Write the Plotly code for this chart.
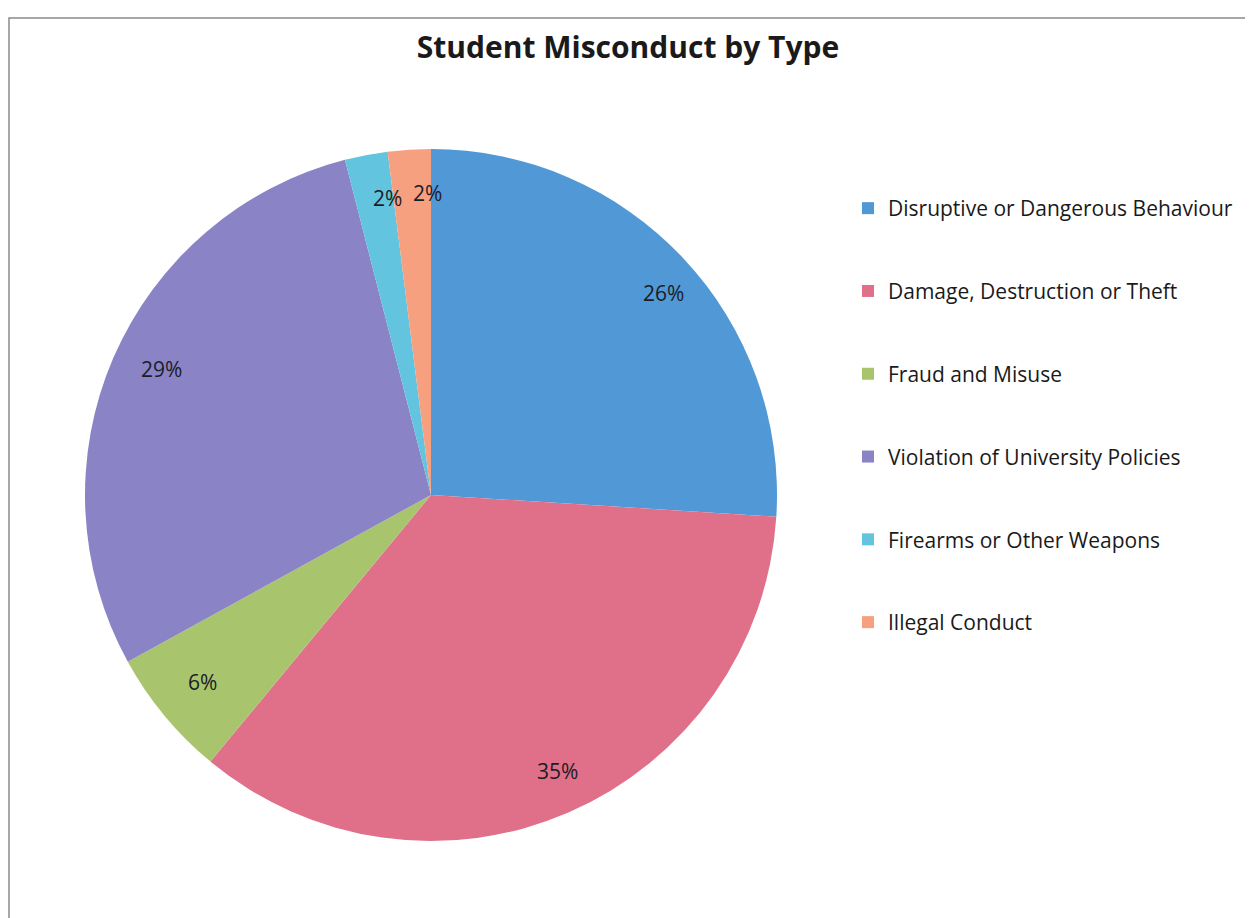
import math
import plotly.graph_objects as go

categories = [
    "Disruptive or Dangerous Behaviour",
    "Damage, Destruction or Theft",
    "Fraud and Misuse",
    "Violation of University Policies",
    "Firearms or Other Weapons",
    "Illegal Conduct",
]
percentages = [26, 35, 6, 29, 2, 2]
colors = ["#5099d6", "#e0708a", "#a8c56e", "#8a84c6", "#62c4de", "#f6a080"]

# page has an 8px body margin, so the figure is drawn 8px smaller
OFF = 8
W, H = 1253 - OFF, 918 - OFF
cx, cy, R = 431 - OFF, 495 - OFF, 346

dom_x = [(cx - R) / W, (cx + R) / W]
dom_y = [(H - cy - R) / H, (H - cy + R) / H]

fig = go.Figure()
fig.add_trace(go.Pie(
    labels=categories,
    values=percentages,
    sort=False,
    direction="clockwise",
    rotation=0,
    marker=dict(colors=colors, line=dict(width=0)),
    textinfo="none",
    showlegend=False,
    domain=dict(x=dom_x, y=dom_y),
    hoverinfo="label+percent",
))

# data labels placed near the rim of each slice (Excel "best fit" look)
total = sum(percentages)
cum = 0
for v in percentages:
    mid = 2 * math.pi * (cum + v / 2) / total
    cum += v
    r = 0.92 * R
    px = cx + r * math.sin(mid)
    py = cy - r * math.cos(mid)
    fig.add_annotation(x=px / W, y=1 - py / H, xref="paper", yref="paper",
                       text=f"{v}%", showarrow=False,
                       font=dict(family="Open Sans", size=21, color="#1c1c28"))

for i, (c, col) in enumerate(zip(categories, colors)):
    fig.add_trace(go.Scatter(
        x=[None], y=[None], mode="markers", name=c,
        marker=dict(symbol="square", size=11, color=col),
        legendgroup=f"g{i}", showlegend=True,
    ))

fig.add_shape(type="rect", xref="paper", yref="paper",
              x0=1 / W, x1=(1249 - OFF) / W, y0=-0.05, y1=1 - (18 - OFF) / H,
              line=dict(color="#8a8a8a", width=1.5), fillcolor="rgba(0,0,0,0)")

fig.update_layout(
    width=W, height=H,
    margin=dict(l=0, r=0, t=0, b=0),
    paper_bgcolor="white", plot_bgcolor="white",
    title=dict(text="<b>Student Misconduct by Type</b>", x=(628 - OFF) / W, xanchor="center",
               y=1 - (47 - OFF) / H, yanchor="middle",
               font=dict(family="Open Sans", size=30, color="#1a1a1a")),
    xaxis=dict(visible=False), yaxis=dict(visible=False),
    legend=dict(x=(848 - OFF) / W, xanchor="left", y=1 - (188 - OFF) / H, yanchor="top",
                font=dict(family="Open Sans", size=21, color="#1a1a1a"),
                tracegroupgap=52.5, bgcolor="rgba(0,0,0,0)", itemsizing="constant"),
)

fig.write_html("out.html")
